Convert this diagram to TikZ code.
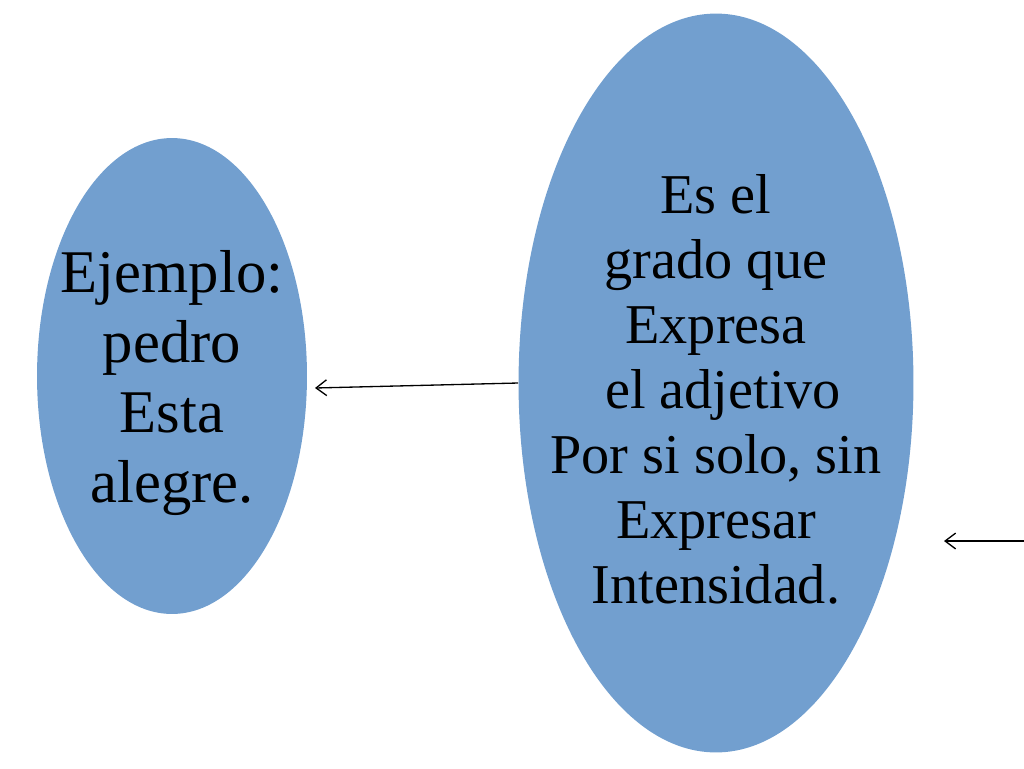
\documentclass[tikz,border=0pt]{standalone}
\usepackage{fontspec}
\setmainfont{Liberation Serif}
\usetikzlibrary{shapes.geometric, arrows.meta}
\definecolor{ovalblue}{RGB}{114,159,207}
\tikzset{
  oval/.style={ellipse, fill=ovalblue, inner sep=0pt},
  pointer/.style={line width=0.75pt, -{Straight Barb[length=6pt,width=9pt]}}
}

\begin{document}
\begin{tikzpicture}[x=0.02cm, y=-0.02cm]
        \useasboundingbox (0,0) rectangle (1024,768);
        \node[oval, minimum width=5.4cm, minimum height=9.52cm] (ejemplo) at (172,376) {};
        \node[oval, minimum width=7.9cm, minimum height=14.78cm] (grado) at (716,383) {};
        \node[align=center, font=\fontsize{34.5}{40}\selectfont] (ejemplotext) at (172,383)
              {Ejemplo:\\pedro\\Esta\\alegre.};
        \node[align=center, font=\fontsize{32}{37}\selectfont] (gradotext) at (716,389)
              {Es el\\grado que\\Expresa\\\hspace{0.25em}el adjetivo\\Por si solo, sin\\Expresar\\Intensidad.};
        \coordinate (tipa) at (315,388);
        \coordinate (taila) at (1024,541);
        \coordinate (tipb) at (944,541);
        \draw[pointer] (grado.west) -- (tipa);
        \draw[pointer] (taila) -- (tipb);
\end{tikzpicture}
\end{document}
